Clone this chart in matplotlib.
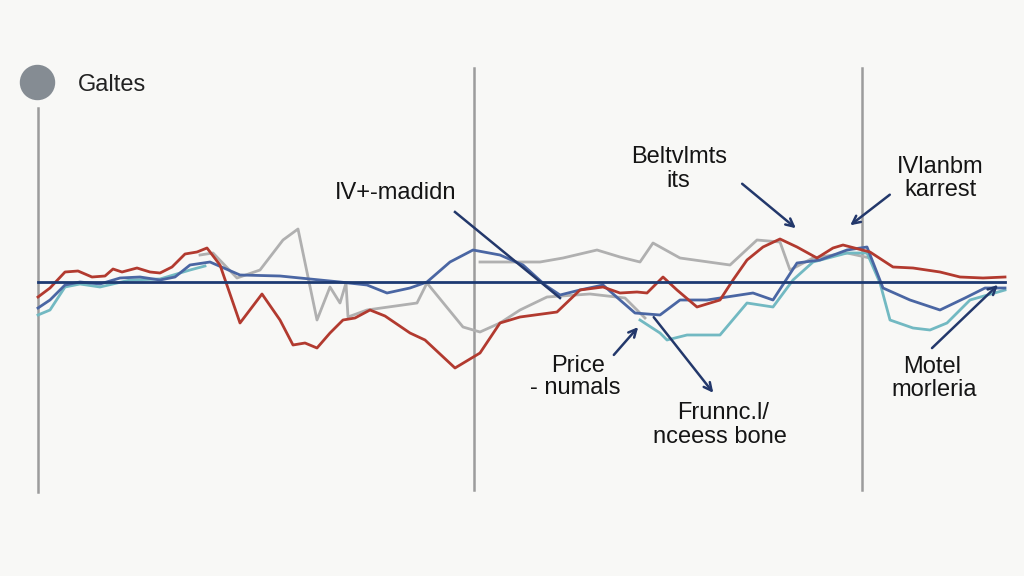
import numpy as np
import matplotlib
matplotlib.use("Agg")
from matplotlib import pyplot as plt

nan = np.nan

# series (x = step, y = deviation from baseline)
red_x = [0, 1.2, 2.7, 4.0, 5.4, 6.7, 7.5, 8.4, 9.9, 11.2, 12.2, 13.4, 14.7, 15.9, 16.9, 18.2,
         20.2, 22.4, 24.2, 25.5, 26.7, 27.9, 29.2, 30.5, 31.7, 33.2, 34.7, 37.2, 38.7, 41.7,
         44.2, 46.2, 48.2, 51.9, 54.2, 56.5, 58.2, 59.9, 60.9, 62.5, 63.9, 65.9, 68.2, 69.5,
         70.9, 72.5, 74.2, 75.9, 77.9, 79.5, 80.5, 83.2, 85.5, 87.5, 90.2, 92.2, 94.5, 96.7]
red_y = [-1.5, -0.6, 1.0, 1.1, 0.5, 0.6, 1.3, 1.0, 1.4, 1.0, 0.9, 1.5, 2.8, 3.0, 3.4, 1.7,
         -4.1, -1.2, -3.8, -6.3, -6.1, -6.6, -5.1, -3.8, -3.6, -2.8, -3.4, -5.1, -5.8, -8.6,
         -7.1, -4.1, -3.5, -3.0, -0.8, -0.5, -1.1, -1.0, -1.1, 0.5, -0.8, -2.5, -1.8, 0.2,
         2.2, 3.5, 4.3, 3.5, 2.4, 3.4, 3.7, 3.0, 1.5, 1.4, 1.0, 0.5, 0.4, 0.5]

blue_x = [0, 1.2, 2.7, 4.2, 6.2, 8.2, 10.2, 12.2, 13.7, 15.2, 17.2, 20.2, 24.2, 28.2, 30.2,
          32.9, 34.9, 37.2, 38.9, 41.2, 43.5, 46.2, 48.5, 50.7, 52.2, 54.2, 56.5, 58.2, 59.7,
          62.2, 64.2, 66.9, 71.5, 73.5, 75.9, 78.2, 80.9, 82.9, 84.5, 87.2, 90.2, 92.7, 94.7, 96.7]
blue_y = [-2.6, -1.8, -0.3, 0, -0.2, 0.4, 0.5, 0.2, 0.5, 1.7, 2.0, 0.7, 0.6, 0.2, 0,
          -0.3, -1.1, -0.6, 0, 2.0, 3.2, 2.7, 1.7, -0.3, -1.3, -0.8, -0.3, -1.8, -3.1,
          -3.3, -1.8, -1.8, -1.1, -1.8, 1.9, 2.2, 3.2, 3.5, -0.6, -1.8, -2.8, -1.6, -0.6, -0.6]

teal_x = [0, 1.2, 2.7, 4.2, 6.2, 9.2, 12.2, 15.2, 16.7, nan,
          60.2, 62.2, 62.9, 64.9, 68.2, 70.9, 73.5, 75.5, 77.5, 80.9, 82.9, 84.2, 85.2,
          87.5, 89.2, 90.9, 93.2, 96.7]
teal_y = [-3.3, -2.8, -0.5, -0.2, -0.5, 0.2, 0.3, 1.2, 1.6, nan,
          -3.8, -5.1, -5.8, -5.3, -5.3, -2.1, -2.5, 0.2, 2.0, 2.9, 2.9, -0.1, -3.8,
          -4.6, -4.8, -4.1, -1.8, -0.8]

gray_a_x = [16.2, 17.5, 19.9, 22.2, 24.5, 26.0, 27.9, 29.2, 30.2, 30.8, 31.0, 32.9, 37.9,
            38.9, 42.5, 44.2, 46.2, 48.2, 50.9, 55.2, 58.7, 60.7]
gray_a_y = [2.7, 2.9, 0.4, 1.2, 4.2, 5.3, -3.8, -0.5, -2.1, -0.1, -3.5, -2.8, -2.1,
            -0.1, -4.5, -5.0, -4.1, -2.8, -1.5, -1.2, -1.6, -3.6]

gray_b_x = [44.2, 47.7, 50.2, 52.5, 55.9, 58.2, 60.2, 61.5, 64.2, 69.2, 71.9, 74.2, 75.2,
            77.5, 80.9, 83.2]
gray_b_y = [2.0, 2.0, 2.0, 2.4, 3.2, 2.5, 2.0, 3.9, 2.4, 1.7, 4.2, 4.0, 1.2, 2.4, 2.9, 2.4]

# section dividers
vline_x = [0, 43.6, 82.4]
vline_top = [17.4, 21.4, 21.4]
vline_bottom = [-21.0, -20.8, -20.8]

labels = ["IV+-madidn", "Beltvlmts", "its", "IVlanbm", "karrest", "Price", "- numals",
          "Frunnc.l/", "nceess bone", "Motel", "morleria"]
label_x = [35.8, 64.1, 64.0, 90.2, 90.2, 54.0, 53.7, 68.5, 68.2, 89.4, 89.6]
label_y = [8.9, 12.5, 10.1, 11.5, 9.2, -8.4, -10.6, -13.1, -15.5, -8.5, -10.8]

# arrows: (start, end, has head)
arrows = [((41.7, 7.0), (52.2, -1.6), False),
          ((70.2, 10.0), (76.0, 5.2), True),
          ((85.4, 8.9), (81.0, 5.5), True),
          ((57.4, -7.5), (60.2, -4.3), True),
          ((61.4, -3.3), (67.7, -11.3), True),
          ((89.2, -6.8), (96.2, -0.1), True)]

bg = "#f8f8f6"
navy = "#23386b"

fig = plt.figure(figsize=(10.24, 5.76), dpi=100, facecolor=bg)
ax = fig.add_axes([0, 0, 1, 1])
ax.set_facecolor(bg)
ax.set_xlim(-3.8, 98.6)
ax.set_ylim(-29.4, 28.2)
ax.axis("off")

for x, t, b in zip(vline_x, vline_top, vline_bottom):
    ax.plot([x, x], [b, t], color="#9c9c9c", lw=1.8, zorder=1)

ax.scatter([-0.1], [20.0], s=600, color="#858c93", zorder=3)
ax.text(4.0, 19.7, "Galtes", fontsize=17, family="Liberation Sans", va="center", ha="left", color="#222222")

ax.plot(gray_a_x, gray_a_y, color="#b0b0b0", lw=2, zorder=2)
ax.plot(gray_b_x, gray_b_y, color="#b0b0b0", lw=2, zorder=2)
ax.plot(teal_x, teal_y, color="#72b9c2", lw=2, zorder=2)
ax.plot(blue_x, blue_y, color="#4a66a3", lw=2, zorder=3)
ax.plot(red_x, red_y, color="#b23a2f", lw=2, zorder=4)
ax.plot([0, 96.7], [0, 0], color="#1d3a72", lw=2, zorder=5)

for (s, e, head) in arrows:
    if head:
        ax.annotate("", xy=e, xytext=s,
                    arrowprops=dict(arrowstyle="->", color=navy, lw=1.8, mutation_scale=14))
    else:
        ax.plot([s[0], e[0]], [s[1], e[1]], color=navy, lw=1.8, zorder=4)

for t, x, y in zip(labels, label_x, label_y):
    ax.text(x, y, t, fontsize=17, family="Liberation Sans", ha="center", va="center", color="#151515")

fig.savefig("out.png", dpi=100, facecolor=bg)
